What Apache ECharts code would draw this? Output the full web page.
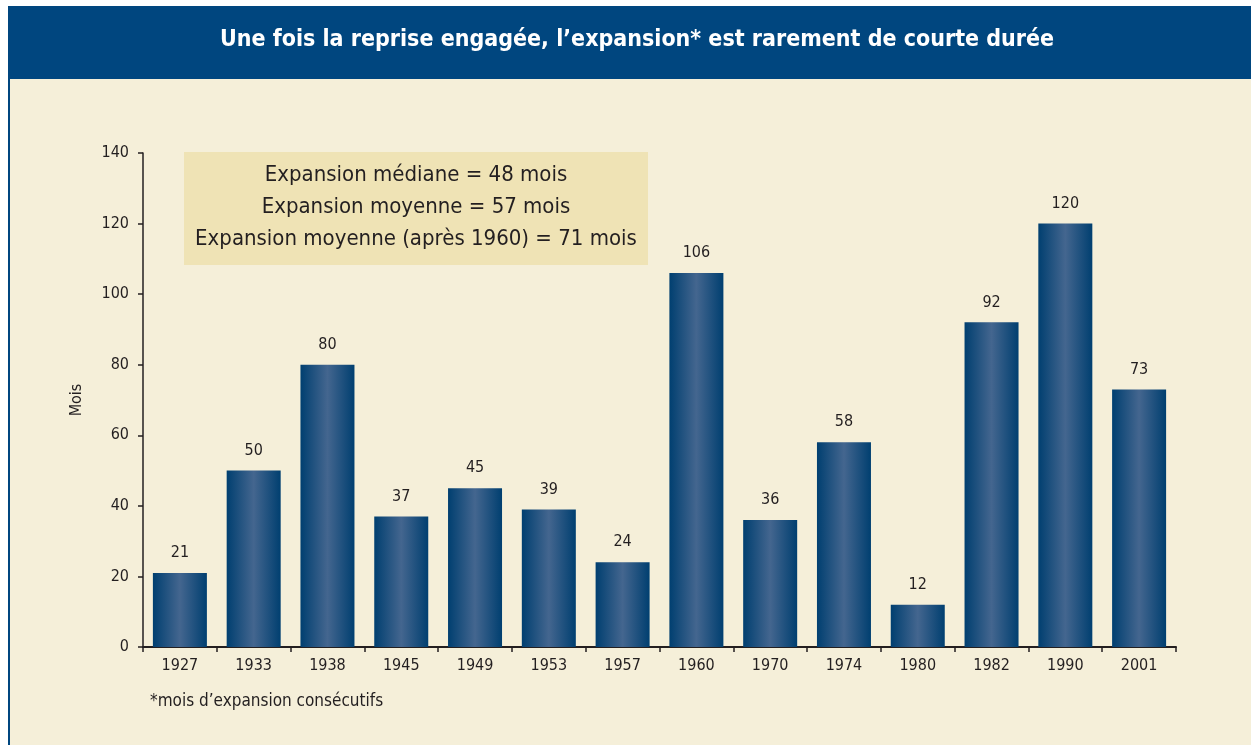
<!DOCTYPE html>
<html>
<head>
<meta charset="utf-8">
<script src="https://cdn.jsdelivr.net/npm/echarts@6/dist/echarts.min.js"></script>
<style>
  html, body { margin: 0; padding: 0; background: #fff; }
  #chart { width: 1251px; height: 745px; }
</style>
</head>
<body>
<div id="chart"></div>
<script>
// expansion periods, months of consecutive growth
const years = ['1927', '1933', '1938', '1945', '1949', '1953', '1957', '1960', '1970', '1974', '1980', '1982', '1990', '2001']
const months = [21, 50, 80, 37, 45, 39, 24, 106, 36, 58, 12, 92, 120, 73]
const notes = [
    'Expansion médiane = 48 mois',
    'Expansion moyenne = 57 mois',
    'Expansion moyenne (après 1960) = 71 mois'
]

const font = '"DejaVu Sans Condensed", "DejaVu Sans", sans-serif'
const ink = '#231f20'

const chart = echarts.init(document.getElementById('chart'))

// bars have a soft cylinder look: dark edges, lighter centre
const barColor = new echarts.graphic.LinearGradient(0, 0, 1, 0, [
    { offset: 0, color: '#003f70' },
    { offset: 0.5, color: '#44668f' },
    { offset: 1, color: '#003f70' }
])

chart.setOption({
    backgroundColor: '#ffffff',
    animation: false,
    textStyle: { fontFamily: font },
    graphic: [
        // beige panel + blue header band
        { type: 'rect', z: -10, shape: { x: 9, y: 6, width: 1242, height: 739 }, style: { fill: '#f5efd9' } },
        { type: 'rect', z: -9, shape: { x: 8, y: 6, width: 2, height: 739 }, style: { fill: '#00467f' } },
        { type: 'rect', z: -9, shape: { x: 8, y: 6, width: 1243, height: 73 }, style: { fill: '#00467f' } },
        {
            type: 'text', x: 637, y: 40,
            style: {
                text: 'Une fois la reprise engagée, l’expansion* est rarement de courte durée',
                fill: '#fff', font: 'bold 23px ' + font, align: 'center', verticalAlign: 'middle'
            }
        },
        // summary box
        { type: 'rect', z: 1, shape: { x: 184, y: 152, width: 464, height: 113 }, style: { fill: '#efe3b5' } },
        {
            type: 'text', z: 2, x: 416, y: 159,
            style: {
                text: notes.join('\n'), fill: ink, font: '22px ' + font,
                align: 'center', verticalAlign: 'top', lineHeight: 32
            }
        },
        {
            type: 'text', x: 150, y: 702,
            style: { text: '*mois d’expansion consécutifs', fill: ink, font: '17px ' + font, verticalAlign: 'middle' }
        }
    ],
    grid: { left: 143, right: 75, top: 153, bottom: 98, containLabel: false },
    xAxis: {
        type: 'category',
        data: years,
        axisLine: { lineStyle: { color: ink, width: 2 } },
        axisTick: { show: true, length: 5, lineStyle: { color: ink, width: 1.5 } },
        axisLabel: { color: ink, fontSize: 16, margin: 11, fontFamily: font }
    },
    yAxis: {
        type: 'value',
        min: 0, max: 140, interval: 20,
        name: 'Mois',
        nameLocation: 'middle',
        nameGap: 58,
        nameRotate: 90,
        nameTextStyle: { color: ink, fontSize: 16, fontFamily: font },
        splitLine: { show: false },
        axisLine: { show: true, lineStyle: { color: ink, width: 1.5 } },
        axisTick: { show: true, length: 5, lineStyle: { color: ink, width: 1.5 } },
        axisLabel: { color: ink, fontSize: 16, margin: 14, fontFamily: font }
    },
    series: [{
        type: 'bar',
        data: months,
        barWidth: 54,
        itemStyle: { color: barColor },
        label: {
            show: true, position: 'top', distance: 12,
            color: ink, fontSize: 16, fontFamily: font
        }
    }]
})
</script>
</body>
</html>
